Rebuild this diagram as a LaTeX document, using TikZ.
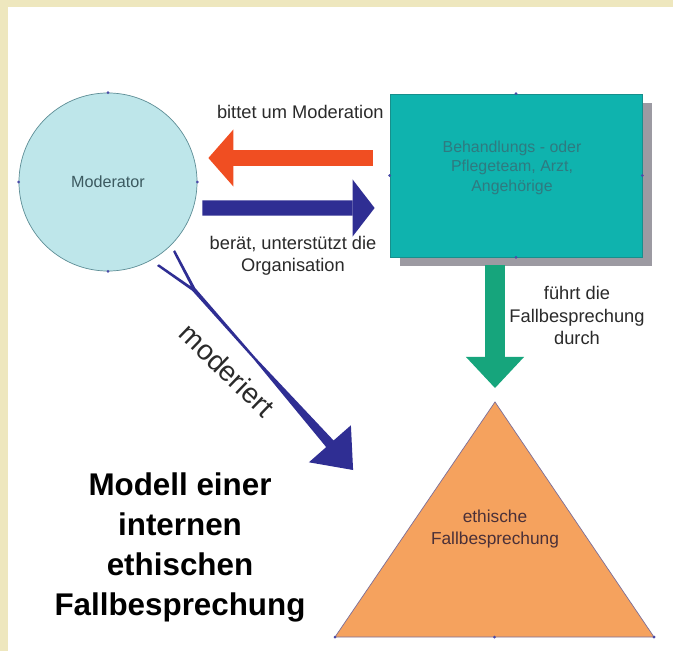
\documentclass[tikz,border=0pt]{standalone}
\usepackage{fontspec}
\setmainfont{Liberation Sans}
\usetikzlibrary{positioning,calc,arrows.meta,shadows}
\definecolor{paleyellow}{HTML}{EEE7BE}
\definecolor{lightcyan}{HTML}{BEE6EA}
\definecolor{circleedge}{HTML}{5E8E96}
\definecolor{boxteal}{HTML}{0FB3AE}
\definecolor{teamedge}{HTML}{178F8C}
\definecolor{shadowgray}{HTML}{9C9AA2}
\definecolor{arrowred}{HTML}{F04E22}
\definecolor{arrowblue}{HTML}{2F2E93}
\definecolor{arrowgreen}{HTML}{16A57C}
\definecolor{triorange}{HTML}{F5A25E}
\definecolor{triedge}{HTML}{7C6E98}
\definecolor{handleblue}{HTML}{4A4AA8}
\definecolor{labeltext}{HTML}{2A2A2A}
\definecolor{teamtext}{HTML}{2F7A80}
\definecolor{moderatortext}{HTML}{3C5A60}
\definecolor{casetext}{HTML}{4A3038}
\tikzstyle{moderator_node}=[circle, draw=circleedge, line width=0.5pt, fill=lightcyan, minimum size=4.45cm, inner sep=0mm, text=moderatortext, font=\fontsize{11.5pt}{13pt}\selectfont]
\tikzstyle{team_node}=[rectangle, draw=teamedge, line width=0.5pt, fill=boxteal, minimum width=6.3cm, minimum height=4.075cm, drop shadow={shadow xshift=0.25cm, shadow yshift=-0.225cm, fill=shadowgray, opacity=1}]
\tikzstyle{team_text}=[align=center, text=teamtext, font=\fontsize{11.3pt}{13.9pt}\selectfont]
\tikzstyle{arrow_label}=[align=center, text=labeltext, font=\fontsize{13pt}{15.8pt}\selectfont]
\tikzstyle{case_text}=[align=center, text=casetext, font=\fontsize{12.3pt}{15.6pt}\selectfont]
\tikzstyle{title_text}=[align=center, text=black, font=\bfseries\fontsize{22.3pt}{28.5pt}\selectfont]
\tikzstyle{handle_dot}=[circle, fill=handleblue, inner sep=0mm, minimum size=0.075cm]
\tikzstyle{red_arrow}=[draw=arrowred, line width=0.4cm, -{Triangle[width=1.425cm,length=0.625cm,line width=0pt]}]
\tikzstyle{blue_arrow}=[draw=arrowblue, line width=0.375cm, -{Triangle[width=1.425cm,length=0.55cm,line width=0pt]}]
\tikzstyle{green_arrow}=[draw=arrowgreen, line width=0.5cm, -{Triangle[width=1.45cm,length=0.775cm,line width=0pt]}]
\begin{document}
\begin{tikzpicture}[x=0.025cm,y=-0.025cm]

            \useasboundingbox (0,0) rectangle (673,651);
            \fill[white] (0,0) rectangle (673,651);
            \fill[paleyellow] (0,0) rectangle (673,7);
            \fill[paleyellow] (0,0) rectangle (8,651);

            % Moderator
            \node[moderator_node] (moder) at (108,182) {Moderator};
            \foreach \a in {north,south,east,west}
                \node[handle_dot] (moder_handle_\a) at (moder.\a) {};

            % Team
            \node[team_node] (team) at (516,175.5) {};
            \node[team_text] (team_label) at ($(team.center)+(-4,-8)$) {Behandlungs - oder\\Pflegeteam, Arzt,\\Angehörige};
            \foreach \a in {north,south,east,west}
                \node[handle_dot] (team_handle_\a) at (team.\a) {};

            % Fallbesprechung
            \coordinate (tri_top) at (495,402);
            \coordinate (tri_left) at (335,637);
            \coordinate (tri_right) at (654,637);
            \draw[triedge, line width=0.5pt, fill=triorange] (tri_top) -- (tri_right) -- (tri_left) -- cycle;
            \node[case_text] (case_label) at (495,529) {ethische\\Fallbesprechung};
            \node[handle_dot] (tri_handle_left) at (tri_left) {};
            \node[handle_dot] (tri_handle_mid) at ($(tri_left)!0.5!(tri_right)$) {};
            \node[handle_dot] (tri_handle_right) at (tri_right) {};

            % Arrows
            \draw[red_arrow] ($(team.west)+(-17,-17.5)$) -- ($(moder.east)+(11,-24)$);
            \node[arrow_label, anchor=east] (ask_label) at ($(team.north west)+(-1,18)$) {bittet um Moderation};

            \draw[blue_arrow] ($(moder.east)+(5,26)$) -- ($(team.west)+(-15,32.5)$);
            \node[arrow_label] (support_label) at (293,256) {berät, unterstützt die\\Organisation};

            \draw[green_arrow] ($(team.south)+(-21,8)$) -- ($(tri_top)+(0,-14)$);
            \node[arrow_label] (lead_label) at (577,315.5) {führt die\\Fallbesprechung\\durch};

            % moderiert
            \fill[arrowblue] (175.0,250.1) -- (195.3,288.1) -- (255.5,357.6) -- (333.6,440.5) -- (350.9,425.3) -- (353.1,470.0)
                -- (308.9,462.3) -- (326.2,447.1) -- (253.7,359.2) -- (192.3,290.8) -- (157.0,265.9) -- (158.9,264.3)
                -- (191.1,286.5) -- (173.1,251.7) -- cycle;
            \node[arrow_label, font=\fontsize{20pt}{24pt}\selectfont, rotate=-44] (moderate_label) at (227,370) {moderiert};

            % Title
            \node[title_text] (title) at (180,547.5) {Modell einer\\internen\\ethischen\\Fallbesprechung};

        \end{tikzpicture}
\end{document}
